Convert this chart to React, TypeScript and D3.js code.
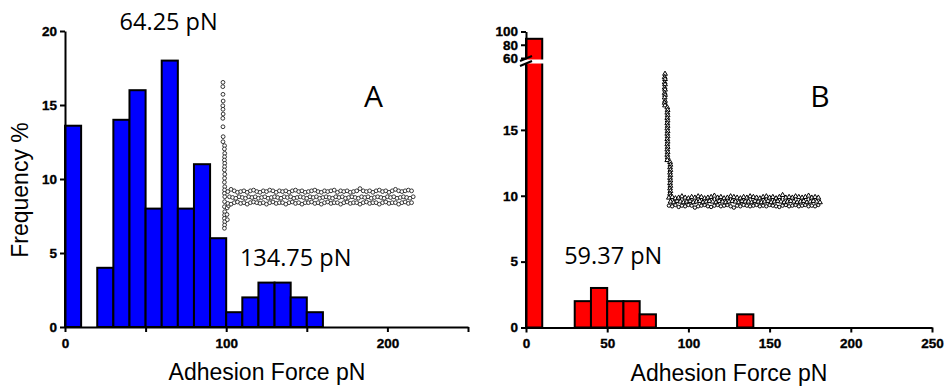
import React, { useEffect, useRef } from 'react';
import * as d3 from 'd3';

// histogram bins (10 pN wide), frequency %
const binWidth = 10;
const binStartsA = [0, 10, 20, 30, 40, 50, 60, 70, 80, 90, 100, 110, 120, 130, 140, 150];
const freqA = [13.6, 0, 4, 14, 16, 8, 18, 8, 11, 6, 1, 2, 3, 3, 2, 1];
const binStartsB = [0, 30, 40, 50, 60, 70, 130];
const freqB = [89, 2, 3, 2, 2, 1, 1];

// ticks
const xTicks = [0, 50, 100, 150, 200, 250];
const xLabelsA = [0, 100, 200];
const yTicksA = [0, 5, 10, 15, 20];
const yTicksBLow = [0, 5, 10, 15];
const yTicksBHigh = [60, 80, 100];

// inset force curve A (drawn in chart units)
const stemAX = [98.0, 97.9, 98.0, 98.1, 97.9, 98.0, 98.1, 97.9, 98.0, 98.1, 98.0,
  99.0, 98.9, 99.1, 99.0, 98.9, 99.1, 99.0, 98.9, 99.1, 99.0, 98.9, 99.1, 99.0, 98.9, 99.1,
  99.0, 98.9, 99.1, 99.0, 98.9, 99.1, 99.0, 98.9, 100.6, 100.5, 101.4, 100.7];
const stemAY = [16.53, 16.24, 15.72, 15.27, 14.95, 14.71, 14.39, 14.1, 13.53, 12.86, 12.52,
  12.25, 12.03, 11.73, 11.5, 11.28, 11.06, 10.83, 10.61, 10.32, 10.05, 9.78, 9.48, 9.26, 9.03,
  8.8, 8.47, 8.13, 7.79, 7.57, 7.34, 7.11, 6.89, 6.67, 8.05, 7.6, 8.2, 7.25];
const bandAStart = 101;
const bandAStep = 2;
const bandATop = [9.15, 9.3, 9.2, 9.1, 9.15, 9.2, 9.1, 9.2, 9.25, 9.15,
  9.1, 9.2, 9.15, 9.25, 9.2, 9.1, 9.2, 9.15, 9.2, 9.1,
  9.2, 9.25, 9.15, 9.2, 9.1, 9.15, 9.2, 9.25, 9.15, 9.1,
  9.2, 9.15, 9.2, 9.25, 9.1, 9.2, 9.15, 9.2, 9.1, 9.15,
  9.2, 9.35, 9.2, 9.15, 9.2, 9.1, 9.2, 9.25, 9.15, 9.2,
  9.1, 9.2, 9.3, 9.2, 9.15, 9.2, 9.25, 9.2];
const bandAMid = [8.8, 8.75, 8.7, 8.8, 8.75, 8.7, 8.8, 8.75, 8.8, 8.7,
  8.75, 8.8, 8.7, 8.75, 8.8, 8.75, 8.7, 8.8, 8.75, 8.8,
  8.7, 8.75, 8.8, 8.75, 8.7, 8.8, 8.75, 8.8, 8.7, 8.75,
  8.8, 8.75, 8.7, 8.8, 8.75, 8.8, 8.7, 8.75, 8.8, 8.75,
  8.7, 8.8, 8.75, 8.8, 8.7, 8.75, 8.8, 8.75, 8.7, 8.8,
  8.75, 8.8, 8.7, 8.75, 8.8, 8.75, 8.7, 8.8];
const bandABot = [8.35, 8.3, 8.4, 8.45, 8.35, 8.4, 8.3, 8.4, 8.45, 8.4,
  8.35, 8.4, 8.3, 8.4, 8.45, 8.35, 8.4, 8.4, 8.3, 8.4,
  8.45, 8.35, 8.4, 8.3, 8.4, 8.4, 8.45, 8.35, 8.4, 8.3,
  8.4, 8.45, 8.35, 8.4, 8.4, 8.3, 8.4, 8.45, 8.35, 8.4,
  8.4, 8.3, 8.4, 8.45, 8.35, 8.4, 8.4, 8.3, 8.4, 8.45,
  8.35, 8.4, 8.4, 8.3, 8.4, 8.45, 8.35, 8.4];

// inset force curve B
const stemBX = [85.6, 85.4, 85.6, 85.4, 85.6, 85.4, 85.6, 85.4, 85.6, 85.4, 85.6, 85.4, 85.6,
  87.0, 87.2, 87.0, 87.2, 87.0, 87.2, 87.0, 87.2, 87.0, 87.2, 87.0, 87.2, 87.0, 87.2, 87.0, 87.2, 87.0, 87.2, 87.0, 87.2, 87.0,
  88.7, 88.9, 88.7, 88.9, 88.7, 88.9, 88.7, 88.9, 88.7, 88.9, 88.7, 88.9, 88.7, 88.9];
const stemBY = [19.25, 19.0, 18.85, 18.6, 18.45, 18.2, 18.05, 17.8, 17.65, 17.45, 17.2, 17.05, 16.85,
  16.7, 16.5, 16.3, 16.1, 15.9, 15.7, 15.5, 15.3, 15.1, 14.9, 14.7, 14.5, 14.3, 14.1, 13.9, 13.7, 13.5, 13.3, 13.1, 12.9, 12.7,
  12.55, 12.35, 12.15, 11.95, 11.75, 11.55, 11.35, 11.15, 10.95, 10.75, 10.55, 10.35, 10.15, 9.95];
const bandBStart = 88;
const bandBStep = 2;
const bandBTop = [9.85, 9.9, 9.8, 9.85, 9.95, 9.85, 9.8, 9.9, 9.85, 9.95,
  9.9, 9.8, 9.85, 9.9, 10.0, 9.85, 9.9, 9.8, 9.85, 9.95,
  9.9, 9.85, 9.8, 9.9, 9.85, 9.95, 9.9, 9.85, 9.8, 9.9,
  9.95, 9.85, 9.9, 9.8, 9.9, 10.05, 9.85, 9.9, 9.85, 9.95,
  9.9, 9.85, 9.9, 10.0, 9.85, 9.9, 9.85];
const bandBMid = [9.55, 9.5, 9.6, 9.55, 9.5, 9.55, 9.6, 9.5, 9.55, 9.6,
  9.5, 9.55, 9.6, 9.55, 9.5, 9.6, 9.55, 9.5, 9.55, 9.6,
  9.55, 9.5, 9.6, 9.55, 9.55, 9.5, 9.6, 9.55, 9.5, 9.55,
  9.6, 9.5, 9.55, 9.6, 9.55, 9.5, 9.55, 9.6, 9.55, 9.5,
  9.55, 9.6, 9.5, 9.55, 9.6, 9.55, 9.5];
const bandBBot = [9.25, 9.2, 9.3, 9.15, 9.25, 9.2, 9.3, 9.25, 9.1, 9.2,
  9.25, 9.3, 9.2, 9.15, 9.25, 9.3, 9.2, 9.25, 9.3, 9.2,
  9.1, 9.25, 9.2, 9.3, 9.25, 9.2, 9.25, 9.3, 9.2, 9.25,
  9.2, 9.3, 9.25, 9.2, 9.15, 9.25, 9.3, 9.2, 9.25, 9.3,
  9.2, 9.25, 9.3, 9.2, 9.25, 9.2, 9.3];

const tickFont = '"Liberation Sans", Arial, sans-serif';
const noteFont = '"Open Sans", "Noto Sans", sans-serif';

function App() {
  const svgRef = useRef<SVGSVGElement>(null);

  useEffect(() => {
    const svg = d3.select(svgRef.current);
    svg.selectAll('*').remove();

    const xA = d3.scaleLinear().domain([0, 250]).range([65, 468]);
    const yA = d3.scaleLinear().domain([0, 20]).range([327, 31]);
    const xB = d3.scaleLinear().domain([0, 250]).range([526, 932]);
    const yBLow = d3.scaleLinear().domain([0, 20]).range([327.5, 64]);
    const yBHigh = d3.scaleLinear().domain([60, 100]).range([58, 31.5]);

    const styleAxis = (g: any) => {
      g.attr('font-family', tickFont).attr('font-size', 13.5);
      g.selectAll('.domain, .tick line').attr('stroke', '#000').attr('stroke-width', 2);
      g.selectAll('text').attr('fill', '#000').attr('font-weight', 'bold')
        .attr('stroke', '#000').attr('stroke-width', 0.35);
    };

    // ---------- panel A ----------
    const gA = svg.append('g');
    gA.selectAll('rect.bar')
      .data(binStartsA.map((s, i) => ({ s, v: freqA[i] })).filter(d => d.v > 0))
      .join('rect')
      .attr('class', 'bar')
      .attr('x', d => xA(d.s))
      .attr('width', d => xA(d.s + binWidth) - xA(d.s))
      .attr('y', d => yA(d.v))
      .attr('height', d => yA(0) - yA(d.v))
      .attr('fill', '#0000ff')
      .attr('stroke', '#000')
      .attr('stroke-width', 2);

    const markA = (pts: [number, number][]) =>
      gA.append('g').selectAll('circle').data(pts).join('circle')
        .attr('cx', d => xA(d[0])).attr('cy', d => yA(d[1])).attr('r', 1.9)
        .attr('fill', '#fff').attr('stroke', '#222').attr('stroke-width', 0.9);
    markA(stemAX.map((x, i) => [x, stemAY[i]]));
    markA(bandABot.map((v, i) => [bandAStart + i * bandAStep, v]));
    markA(bandATop.map((v, i) => [bandAStart + i * bandAStep, v]));
    markA(bandAMid.map((v, i) => [bandAStart + 1 + i * bandAStep, v]));

    const axAx = gA.append('g').attr('transform', `translate(0,${yA(0)})`)
      .call(d3.axisBottom(xA).tickValues(xTicks).tickSize(5).tickSizeOuter(0).tickPadding(6)
        .tickFormat((d: any) => (xLabelsA.includes(+d) ? String(d) : '')));
    styleAxis(axAx);
    const ayAx = gA.append('g').attr('transform', `translate(${xA(0)},0)`)
      .call(d3.axisLeft(yA).tickValues(yTicksA).tickSize(5).tickSizeOuter(0).tickPadding(3));
    styleAxis(ayAx);

    gA.append('text').text('Frequency %')
      .attr('transform', `translate(28,190) rotate(-90)`)
      .attr('text-anchor', 'middle').attr('font-family', tickFont).attr('font-size', 23);
    gA.append('text').text('Adhesion Force pN')
      .attr('x', 267).attr('y', 380)
      .attr('text-anchor', 'middle').attr('font-family', tickFont).attr('font-size', 23);

    gA.append('text').text('64.25 pN').attr('x', xA(64.3)).attr('y', yA(20.05))
      .attr('text-anchor', 'middle').attr('font-family', noteFont).attr('font-size', 23.5);
    gA.append('text').text('134.75 pN').attr('x', xA(108.5)).attr('y', yA(4.12))
      .attr('font-family', noteFont).attr('font-size', 23.5);
    gA.append('text').text('A').attr('x', xA(185.5)).attr('y', yA(14.86))
      .attr('font-family', noteFont).attr('font-size', 30);

    // ---------- panel B ----------
    const gB = svg.append('g');
    const lowMax = yBLow.domain()[1];
    const barsB = binStartsB.map((s, i) => ({ s, v: freqB[i] }));
    gB.selectAll('rect.low')
      .data(barsB)
      .join('rect')
      .attr('class', 'low')
      .attr('x', d => xB(d.s))
      .attr('width', d => xB(d.s + binWidth) - xB(d.s))
      .attr('y', d => (d.v > lowMax ? yBLow(lowMax) - 3 : yBLow(d.v)))
      .attr('height', d => yBLow(0) - (d.v > lowMax ? yBLow(lowMax) - 3 : yBLow(d.v)))
      .attr('fill', '#ff0000')
      .attr('stroke', '#000')
      .attr('stroke-width', 2);
    const tall = barsB.filter(d => d.v > lowMax);
    gB.selectAll('rect.high')
      .data(tall)
      .join('rect')
      .attr('class', 'high')
      .attr('x', d => xB(d.s))
      .attr('width', d => xB(d.s + binWidth) - xB(d.s))
      .attr('y', d => yBHigh(d.v))
      .attr('height', d => yBHigh(60) + 4 - yBHigh(d.v))
      .attr('fill', '#ff0000')
      .attr('stroke', '#000')
      .attr('stroke-width', 2);
    // break gap
    gB.selectAll('rect.gap')
      .data(tall)
      .join('rect')
      .attr('class', 'gap')
      .attr('x', d => xB(d.s) - 2)
      .attr('width', d => xB(d.s + binWidth) - xB(d.s) + 4)
      .attr('y', yBHigh(60) + 1.5)
      .attr('height', 4)
      .attr('fill', '#fff');

    const markB = (pts: [number, number][], sym: any, size: number) =>
      gB.append('g').selectAll('path').data(pts).join('path')
        .attr('transform', d => `translate(${xB(d[0])},${yBLow(d[1])})`)
        .attr('d', d3.symbol().type(sym).size(size)())
        .attr('fill', '#fff').attr('stroke', '#000').attr('stroke-width', 1);
    markB(stemBX.map((x, i) => [x, stemBY[i]]), d3.symbolTriangle, 10);
    markB(bandBBot.map((v, i) => [bandBStart + i * bandBStep, v]), d3.symbolCircle, 9);
    markB(bandBMid.map((v, i) => [bandBStart + 1 + i * bandBStep, v]), d3.symbolTriangle, 10);
    markB(bandBTop.map((v, i) => [bandBStart + i * bandBStep, v]), d3.symbolTriangle, 10);

    const bxAx = gB.append('g').attr('transform', `translate(0,${yBLow(0)})`)
      .call(d3.axisBottom(xB).tickValues(xTicks).tickSize(5).tickSizeOuter(0).tickPadding(6));
    styleAxis(bxAx);
    const byLow = gB.append('g').attr('transform', `translate(${xB(0)},0)`)
      .call(d3.axisLeft(yBLow).tickValues(yTicksBLow).tickSize(5).tickSizeOuter(0).tickPadding(3));
    styleAxis(byLow);
    const byHigh = gB.append('g').attr('transform', `translate(${xB(0)},0)`)
      .call(d3.axisLeft(yBHigh).tickValues(yTicksBHigh).tickSize(5).tickSizeOuter(0).tickPadding(3));
    styleAxis(byHigh);
    // break slashes on the axis
    const bx = xB(0);
    const by = yBHigh(60);
    [0, 5].forEach(off => {
      gB.append('line')
        .attr('x1', bx - 6).attr('y1', by + off + 3)
        .attr('x2', bx + 6).attr('y2', by + off - 2)
        .attr('stroke', '#000').attr('stroke-width', 2);
    });

    gB.append('text').text('Adhesion Force pN')
      .attr('x', 729).attr('y', 381)
      .attr('text-anchor', 'middle').attr('font-family', tickFont).attr('font-size', 23);
    gB.append('text').text('59.37 pN').attr('x', xB(23.5)).attr('y', yBLow(4.8))
      .attr('font-family', noteFont).attr('font-size', 23.5);
    gB.append('text').text('B').attr('x', xB(175)).attr('y', yBLow(16.7))
      .attr('font-family', noteFont).attr('font-size', 30);
  }, []);

  return (
    <svg
      ref={svgRef}
      width={947}
      height={392}
      style={{ position: 'absolute', left: 0, top: 0, background: '#fff' }}
    />
  );
}

export default App;
